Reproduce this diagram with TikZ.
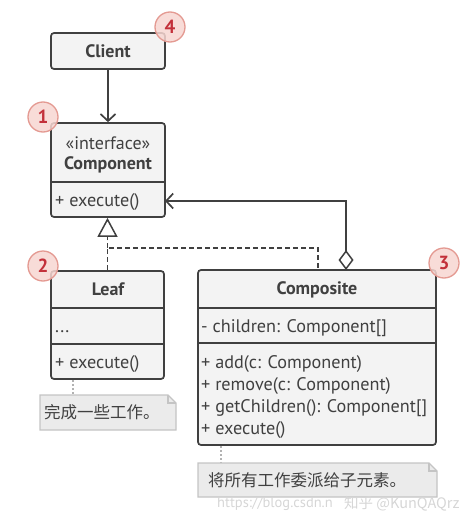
\documentclass[tikz,border=0pt]{standalone}
\usepackage{fontspec}
\setmainfont{PT Sans}
\newfontfamily\cjk{Noto Sans CJK SC}
\usetikzlibrary{arrows.meta,calc}
\definecolor{ink}{HTML}{404040}
\definecolor{boxfill}{HTML}{F3F3F3}
\definecolor{notefill}{HTML}{EBEBEB}
\definecolor{noteline}{HTML}{C4C4C4}
\definecolor{badgefill}{HTML}{F7D6D1}
\definecolor{badgeline}{HTML}{E49A92}
\definecolor{badgetext}{HTML}{C3303A}
\definecolor{wm}{HTML}{D6D6D6}
\tikzset{
  box/.style={draw=ink, line width=1.7pt, fill=boxfill, rounded corners=3pt, inner sep=0pt},
  divline/.style={draw=ink, line width=1.7pt},
  title/.style={font=\fontsize{18}{19}\selectfont\bfseries, text=ink, inner sep=0pt},
  txt/.style={font=\fontsize{18.2}{20}\selectfont, text=ink, inner sep=0pt, anchor=west, text height=12.5pt, text depth=0pt},
  conn/.style={draw=ink, line width=1.7pt},
  badge/.style={circle, minimum size=30pt, inner sep=0pt, fill=badgefill, fill opacity=0.85, text opacity=1, draw=badgeline, line width=1.3pt, font=\fontsize{19}{19}\selectfont\bfseries, text=badgetext},
  notetxt/.style={font=\cjk\fontsize{16.5}{18}\selectfont, text=ink, inner sep=0pt, anchor=west},
  dotconn/.style={draw=gray!60, line width=1.4pt, dash pattern=on 2pt off 2pt},
  wmtxt/.style={font=\fontsize{14.5}{16}\selectfont, text=wm, inner sep=0pt, anchor=west}
}
\begin{document}
\begin{tikzpicture}[x=1pt,y=-1pt]
\useasboundingbox (0,0) rectangle (469,522);
% boxes
\node[box, minimum width=114pt, minimum height=36pt] (client) at (108,51) {};
\node[box, minimum width=114pt, minimum height=94pt] (comp) at (108,170) {};
\node[box, minimum width=113pt, minimum height=108pt] (leaf) at (107.5,325) {};
\node[box, minimum width=238pt, minimum height=175pt] (compo) at (317,357.5) {};
% dividers
\draw[divline] (comp.west |- 0,182) -- (comp.east |- 0,182);
\draw[divline] (leaf.west |- 0,308) -- (leaf.east |- 0,308);
\draw[divline] (leaf.west |- 0,344) -- (leaf.east |- 0,344);
\draw[divline] (compo.west |- 0,308) -- (compo.east |- 0,308);
\draw[divline] (compo.west |- 0,343) -- (compo.east |- 0,343);
% texts
\node[title] (clientT) at (108,51) {Client};
\node[font=\fontsize{18}{19}\selectfont, text=ink, inner sep=0pt] (compS) at (108,143) {«interface»};
\node[title] (compT) at (108,165) {Component};
\node[txt] (compM) at (55,200) {+ execute()};
\node[title] (leafT) at (108,289) {Leaf};
\node[txt] (leafA) at (55,326) {...};
\node[txt] (leafM) at (55,362) {+ execute()};
\node[title] (compoT) at (317,290) {Composite};
\node[txt] (compoA) at (201,326) {- children: Component[]};
\node[txt] (compoM1) at (201,362) {+ add(c: Component)};
\node[txt] (compoM2) at (201,384) {+ remove(c: Component)};
\node[txt] (compoM3) at (201,406) {+ getChildren(): Component[]};
\node[txt] (compoM4) at (201,428) {+ execute()};
% client -> component
\draw[conn, -{Straight Barb[length=7pt,width=15pt,line width=1.7pt]}] (client) -- (comp);
% inheritance (dashed)
\coordinate (j) at (107.5,248);
\coordinate (cj) at (318,248);
\coordinate (ct) at (318,270);
\draw[conn, dashed, dash pattern=on 5pt off 3pt] (leaf.north) -- (j) -- (cj) -- (ct);
\draw[conn, dashed, dash pattern=on 5pt off 3pt] (j) -- (107.5,239);
\draw[conn, -{Triangle[open, length=19pt, width=20pt, fill=white, line width=1.5pt]}] (107.5,240) -- (comp.south -| j);
% aggregation
\coordinate (dg) at (346,270);
\coordinate (ce) at (165,201);
\draw[conn, {Diamond[open, length=20pt, width=15pt, fill=white, line width=1.5pt]}-{Straight Barb[length=7pt,width=15pt,line width=1.7pt]}] (dg) |- (ce);
% notes
\draw[dotconn] (leaf.south -| 73,0) -- (73,395);
\draw[draw=noteline, fill=notefill, line width=1.3pt] (40,395) -- (168,395) -- (176,403) -- (176,430) -- (40,430) -- cycle;
\draw[draw=noteline, line width=1.1pt] (168,395) -- (168,403) -- (176,403);
\node[notetxt] (leafN) at (44,412.5) {完成一些工作。};
\draw[dotconn] (compo.south -| 221,0) -- (221,463);
\draw[draw=noteline, fill=notefill, line width=1.3pt] (198,463) -- (429,463) -- (437,471) -- (437,497) -- (198,497) -- cycle;
\draw[draw=noteline, line width=1.1pt] (429,463) -- (429,471) -- (437,471);
\node[notetxt] (compoN) at (208,480) {将所有工作委派给子元素。};
% watermark
\node[wmtxt] (wm1) at (217,504) {https://blog.csdn.n};
\node[wmtxt, font=\cjk\fontsize{14.5}{16}\selectfont] (wm2) at (344,504) {知乎 @KunQAQrz};
% badges
\node[badge] (b4) at (170,27) {4};
\node[badge] (b1) at (43,117) {1};
\node[badge] (b2) at (43,266) {2};
\node[badge] (b3) at (444,263) {3};
\end{tikzpicture}
\end{document}
